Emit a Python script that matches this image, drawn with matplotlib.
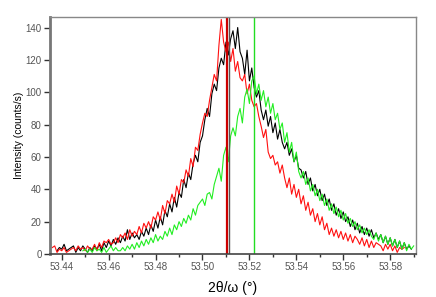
import numpy as np
import matplotlib
matplotlib.use("Agg")
import matplotlib.pyplot as plt
from matplotlib.ticker import MultipleLocator

plt.rcParams['font.family'] = ['Liberation Sans', 'DejaVu Sans']

step = 0.001

# red scan, starts at 53.436
red_start = 53.436
red = [4, 5, 1, 3, 2, 4, 1, 2, 3, 4,
       2, 5, 3, 4, 2, 5, 3, 3, 6, 2,
       7, 4, 8, 7, 9, 6, 7, 10, 7, 12,
       10, 13, 9, 15, 11, 14, 12, 17, 13, 19,
       16, 20, 16, 23, 21, 26, 21, 30, 25, 33,
       31, 37, 32, 42, 37, 46, 44, 52, 48, 59,
       54, 66, 64, 74, 81, 87, 85, 95, 103, 111,
       107, 129, 145, 131, 125, 131, 119, 127, 113, 119,
       109, 107, 111, 99, 105, 95, 91, 93, 85, 79,
       72, 77, 63, 59, 61, 55, 57, 50, 55, 47,
       41, 47, 37, 43, 35, 40, 31, 36, 27, 32,
       24, 28, 20, 25, 18, 23, 15, 19, 12, 16,
       11, 15, 10, 14, 9, 13, 8, 12, 7, 11,
       9, 6, 10, 5, 9, 4, 8, 4, 7, 6,
       5, 2, 6, 3, 6, 2, 5, 1, 4, 3,
       4]

# black scan, starts at 53.438
black_start = 53.438
black = [2, 4, 3, 6, 2, 3, 4, 5, 1, 4,
         2, 5, 3, 1, 4, 2, 5, 3, 6, 2,
         7, 4, 8, 5, 9, 6, 10, 7, 11, 8,
         15, 9, 13, 10, 12, 9, 14, 11, 16, 12,
         18, 14, 21, 16, 23, 18, 27, 23, 31, 26,
         35, 29, 38, 35, 46, 41, 50, 46, 56, 61,
         57, 69, 73, 83, 90, 85, 99, 105, 101, 115,
         121, 117, 131, 123, 133, 138, 127, 140, 125, 121,
         111, 126, 107, 115, 103, 97, 101, 89, 83, 89,
         79, 85, 75, 81, 71, 77, 69, 65, 69, 61,
         65, 57, 61, 53, 52, 47, 51, 43, 47, 39,
         43, 36, 40, 33, 37, 30, 34, 27, 31, 24,
         28, 22, 26, 20, 23, 17, 21, 15, 19, 13,
         17, 12, 16, 11, 15, 10, 13, 9, 12, 7,
         11, 6, 10, 5, 9, 4, 8, 3, 7, 3,
         5, 3]

# green scan, starts at 53.449
green_start = 53.449
green = [2, 3, 1, 3, 1, 4, 2, 3, 1, 4,
         1, 3, 5, 2, 4, 2, 2, 4, 2, 5,
         3, 6, 3, 7, 4, 8, 5, 9, 6, 10,
         7, 12, 8, 11, 9, 14, 11, 16, 12, 18,
         15, 20, 17, 22, 19, 24, 21, 28, 24, 30,
         32, 34, 30, 37, 38, 34, 43, 48, 53, 45,
         61, 66, 57, 73, 78, 73, 85, 90, 81, 97,
         102, 93, 107, 110, 99, 105, 95, 101, 91, 97,
         87, 93, 83, 87, 77, 81, 69, 75, 63, 69,
         57, 63, 51, 47, 51, 43, 47, 39, 43, 36,
         40, 33, 37, 30, 34, 27, 31, 25, 29, 23,
         27, 21, 25, 19, 22, 17, 20, 15, 18, 13,
         16, 12, 15, 11, 9, 13, 8, 12, 7, 11,
         6, 10, 5, 9, 4, 8, 3, 7, 2, 6,
         3, 5]

# peak markers
red_peak = 53.5106
black_peak = 53.5113
green_peak = 53.5220

x_red = red_start + step * np.arange(len(red))
x_black = black_start + step * np.arange(len(black))
x_green = green_start + step * np.arange(len(green))

fig = plt.figure(figsize=(4.36, 2.97), dpi=100)
ax = fig.add_axes([50/436, 43/297, 366/436, 237/297])

ax.plot(x_black, black, color="black", lw=0.8)
ax.plot(x_red, red, color="#ff1010", lw=0.8)
ax.plot(x_green, green, color="#22ee22", lw=0.8)

ax.axvline(red_peak, color="#cc0000", lw=1.6)
ax.axvline(black_peak, color="#555555", lw=1.0)
ax.axvline(green_peak, color="#22dd22", lw=1.0)

ax.set_xlim(53.435, 53.591)
ax.set_ylim(0, 146.5)
ax.xaxis.set_major_locator(MultipleLocator(0.02))
ax.xaxis.set_minor_locator(MultipleLocator(0.01))
ax.yaxis.set_major_locator(MultipleLocator(20))
ax.xaxis.set_major_formatter(plt.FormatStrFormatter("%.2f"))

ax.tick_params(axis="both", which="major", direction="out", length=4, width=1,
               color="#333333", labelsize=7, labelcolor="#555555", pad=2)
ax.tick_params(axis="x", which="minor", direction="out", length=2.5, width=1,
               color="#333333")

ax.spines["left"].set_color("#777777")
ax.spines["left"].set_linewidth(2)
ax.spines["bottom"].set_color("#444444")
ax.spines["bottom"].set_linewidth(1.2)
for s in ["top", "right"]:
    ax.spines[s].set_color("#888888")
    ax.spines[s].set_linewidth(1)

ax.set_xlabel("2θ/ω (°)", fontsize=10, color="black", labelpad=6)
ax.set_ylabel("Intensity (counts/s)", fontsize=7.5, color="black", labelpad=1)

fig.savefig("out.png", dpi=100)
